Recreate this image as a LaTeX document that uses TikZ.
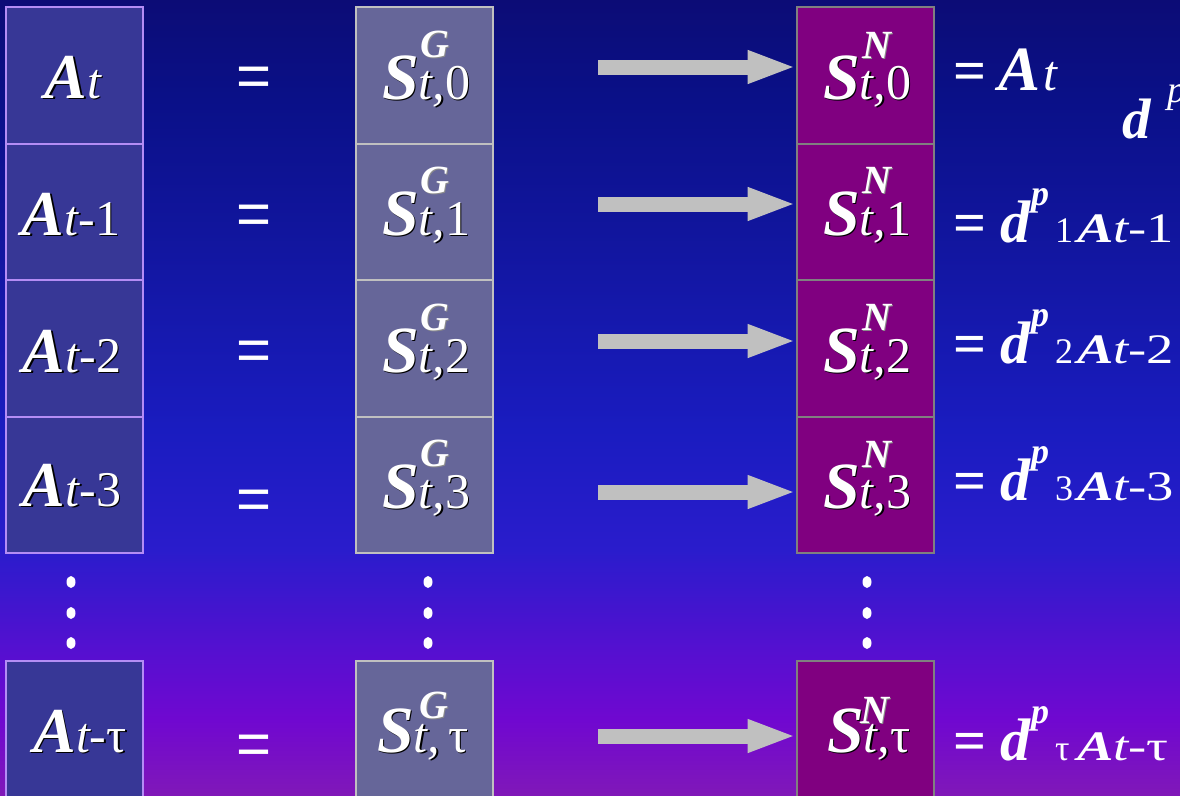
\documentclass[tikz,border=0pt]{standalone}
\usepackage{fontspec}
\setmainfont{Liberation Serif}
\newfontfamily\sansf{Liberation Sans}
\usepackage{graphicx}
\usetikzlibrary{arrows.meta}
\definecolor{g0}{RGB}{128,24,184}
\definecolor{g1}{RGB}{112,8,208}
\definecolor{g2}{RGB}{85,16,208}
\definecolor{g3}{RGB}{42,28,204}
\definecolor{g4}{RGB}{26,28,192}
\definecolor{g5}{RGB}{18,22,160}
\definecolor{g6}{RGB}{10,16,136}
\definecolor{g7}{RGB}{12,12,118}
\definecolor{fillA}{RGB}{55,55,150}
\definecolor{bordA}{RGB}{180,140,245}
\definecolor{fillG}{RGB}{102,102,153}
\definecolor{bordG}{RGB}{192,192,192}
\definecolor{fillN}{RGB}{128,0,128}
\definecolor{bordN}{RGB}{128,128,128}
\definecolor{arrgray}{RGB}{192,192,192}
\definecolor{supshadow}{RGB}{140,140,140}
\pgfdeclareverticalshading{bgshade}{100bp}{color(0bp)=(g0); color(25bp)=(g0); color(29.7bp)=(g1); color(34.1bp)=(g2); color(40.4bp)=(g3); color(47.95bp)=(g4); color(59.3bp)=(g5); color(68.7bp)=(g6); color(75bp)=(g7); color(100bp)=(g7)}
\newcommand\fs[1]{\fontsize{#1}{#1}\selectfont}
\newcommand\BI[2]{{\fs{#1}\bfseries\itshape #2}}
\newcommand\IT[2]{{\fs{#1}\itshape #2}}
\newcommand\UP[2]{{\fs{#1}#2}}
\newcommand\BD[2]{{\fs{#1}\bfseries #2}}
\newcommand\shl[5]{\node[#1,text=#5] at ([shift={(1.6,1.6)}]#2) {#4};\node[#1] (#3) at (#2) {#4};}
\newcommand\eqrow[3]{%
  \node[lbl] (eq#1) at (953,#2) {\BD{58}{=}};
  \node[lbl] (d#1) at (1000,#2) {\BI{60}{d}};
  \node[lbl] (p#1) at (1031,#2-37) {\BI{36}{p}};
  \node[lbl] (i#1) at (1055,#2) {\UP{36}{#3}};
  \node[lbl] (a#1) at (1077,#2) {\scalebox{1.3}[1]{\BI{42}{A}\IT{42}{t}\UP{42}{-#3}}};
}
\begin{document}
\begin{tikzpicture}[x=1pt,y=-1pt,
  lbl/.style={inner sep=0pt, outer sep=0pt, anchor=base west, text=white},
  lblc/.style={inner sep=0pt, outer sep=0pt, anchor=base, text=white},
  boxbase/.style={line width=2pt, minimum width=137pt, minimum height=136.5pt, inner sep=0pt, outer sep=0pt},
  boxA/.style={boxbase, draw=bordA, fill=fillA},
  boxG/.style={boxbase, draw=bordG, fill=fillG},
  boxN/.style={boxbase, draw=bordN, fill=fillN},
  eqsign/.style={inner sep=0pt, text=white, font=\sansf\fontsize{60}{60}\selectfont},
  bigarrow/.style={draw=arrgray, line width=15pt, -{Triangle[length=49pt,width=30pt,fill=arrgray]}},
  dotmark/.style={fill=white, draw=none}
]
\useasboundingbox (0,0) rectangle (1180,795);
\clip (0,0) rectangle (1180,795);
\shade[shading=bgshade] (0,0) rectangle (1180,795);

% boxes
\foreach \i/\y in {0/75.25,1/211.75,2/348.25,3/484.75}{
  \node[boxA] (a\i) at (74.5,\y) {};
  \node[boxG] (g\i) at (424,\y) {};
  \node[boxN] (n\i) at (865,\y) {};
}
\node[boxA, minimum height=140pt] (at) at (74.5,731) {};
\node[boxG, minimum height=140pt] (gt) at (424,731) {};
\node[boxN, minimum height=140pt] (nt) at (865,731) {};

% A labels
\shl{lblc}{73,98}{la0}{\BI{64}{A}\IT{50}{t}}{black}
\shl{lblc}{71,235}{la1}{\BI{64}{A}\IT{50}{t}\UP{50}{-1}}{black}
\shl{lblc}{72,372}{la2}{\BI{64}{A}\IT{50}{t}\UP{50}{-2}}{black}
\shl{lblc}{72,506}{la3}{\BI{64}{A}\IT{50}{t}\UP{50}{-3}}{black}
\shl{lblc}{80,752}{lat}{\BI{64}{A}\IT{50}{t}\UP{50}{-τ}}{black}

% S^G labels
\shl{lbl}{382,99}{lg0}{\BI{66}{S}\IT{50}{t,}\UP{50}{0}}{black}
\shl{lbl}{382,235}{lg1}{\BI{66}{S}\IT{50}{t,}\UP{50}{1}}{black}
\shl{lbl}{382,372}{lg2}{\BI{66}{S}\IT{50}{t,}\UP{50}{2}}{black}
\shl{lbl}{382,508}{lg3}{\BI{66}{S}\IT{50}{t,}\UP{50}{3}}{black}
\shl{lbl}{377,752}{lgt}{\BI{66}{S}\IT{50}{t,}\hspace{8pt}\UP{50}{τ}}{black}
\shl{lbl}{420,57}{sg0}{\BI{40}{G}}{supshadow}
\shl{lbl}{420,193}{sg1}{\BI{40}{G}}{supshadow}
\shl{lbl}{420,330}{sg2}{\BI{40}{G}}{supshadow}
\shl{lbl}{420,466}{sg3}{\BI{40}{G}}{supshadow}
\shl{lbl}{419,718}{sgt}{\BI{40}{G}}{supshadow}

% S^N labels
\shl{lbl}{823,99}{ln0}{\BI{66}{S}\IT{50}{t,}\UP{50}{0}}{black}
\shl{lbl}{823,235}{ln1}{\BI{66}{S}\IT{50}{t,}\UP{50}{1}}{black}
\shl{lbl}{823,372}{ln2}{\BI{66}{S}\IT{50}{t,}\UP{50}{2}}{black}
\shl{lbl}{823,508}{ln3}{\BI{66}{S}\IT{50}{t,}\UP{50}{3}}{black}
\shl{lbl}{827,752}{lnt}{\BI{66}{S}\IT{50}{t,}\UP{50}{τ}}{black}
\shl{lbl}{862,58}{sn0}{\BI{40}{N}}{supshadow}
\shl{lbl}{862,193}{sn1}{\BI{40}{N}}{supshadow}
\shl{lbl}{862,330}{sn2}{\BI{40}{N}}{supshadow}
\shl{lbl}{862,467}{sn3}{\BI{40}{N}}{supshadow}
\shl{lbl}{860,723}{snt}{\BI{40}{N}}{supshadow}

% middle equal signs
\node[eqsign] (e0) at (254,82) {=};
\node[eqsign] (e1) at (254,220) {=};
\node[eqsign] (e2) at (254,356) {=};
\node[eqsign] (e3) at (254,505) {=};
\node[eqsign] (et) at (254,750) {=};

% arrows
\coordinate (s0) at (598,67);
\coordinate (s1) at (598,204);
\coordinate (s2) at (598,341);
\coordinate (s3) at (598,492);
\coordinate (st) at (598,736);
\draw[bigarrow] (s0) -- (s0 -| n0.west);
\draw[bigarrow] (s1) -- (s1 -| n1.west);
\draw[bigarrow] (s2) -- (s2 -| n2.west);
\draw[bigarrow] (s3) -- (s3 -| n3.west);
\draw[bigarrow] (st) -- (st -| nt.west);

% vertical dots
\foreach \x in {71,428,867}{
  \foreach \y in {582,613,643}{
    \fill[dotmark] (\x,\y) ellipse [x radius=4.5pt, y radius=6pt];
  }
}

% right equations
\node[lbl] (eqr0) at (953,90) {\BD{58}{=}};
\node[lbl] (ar0) at (998,90) {\BI{63}{A}};
\node[lbl] (tr0) at (1043,90) {\IT{50}{t}};
\node[lbl] (dtop) at (1122,138) {\BI{57}{d}};
\node[lbl] (ptop) at (1167,102) {\IT{38}{p}};
\eqrow{1}{242}{1}
\eqrow{2}{363}{2}
\eqrow{3}{500}{3}
\eqrow{t}{760}{τ}
\end{tikzpicture}
\end{document}
